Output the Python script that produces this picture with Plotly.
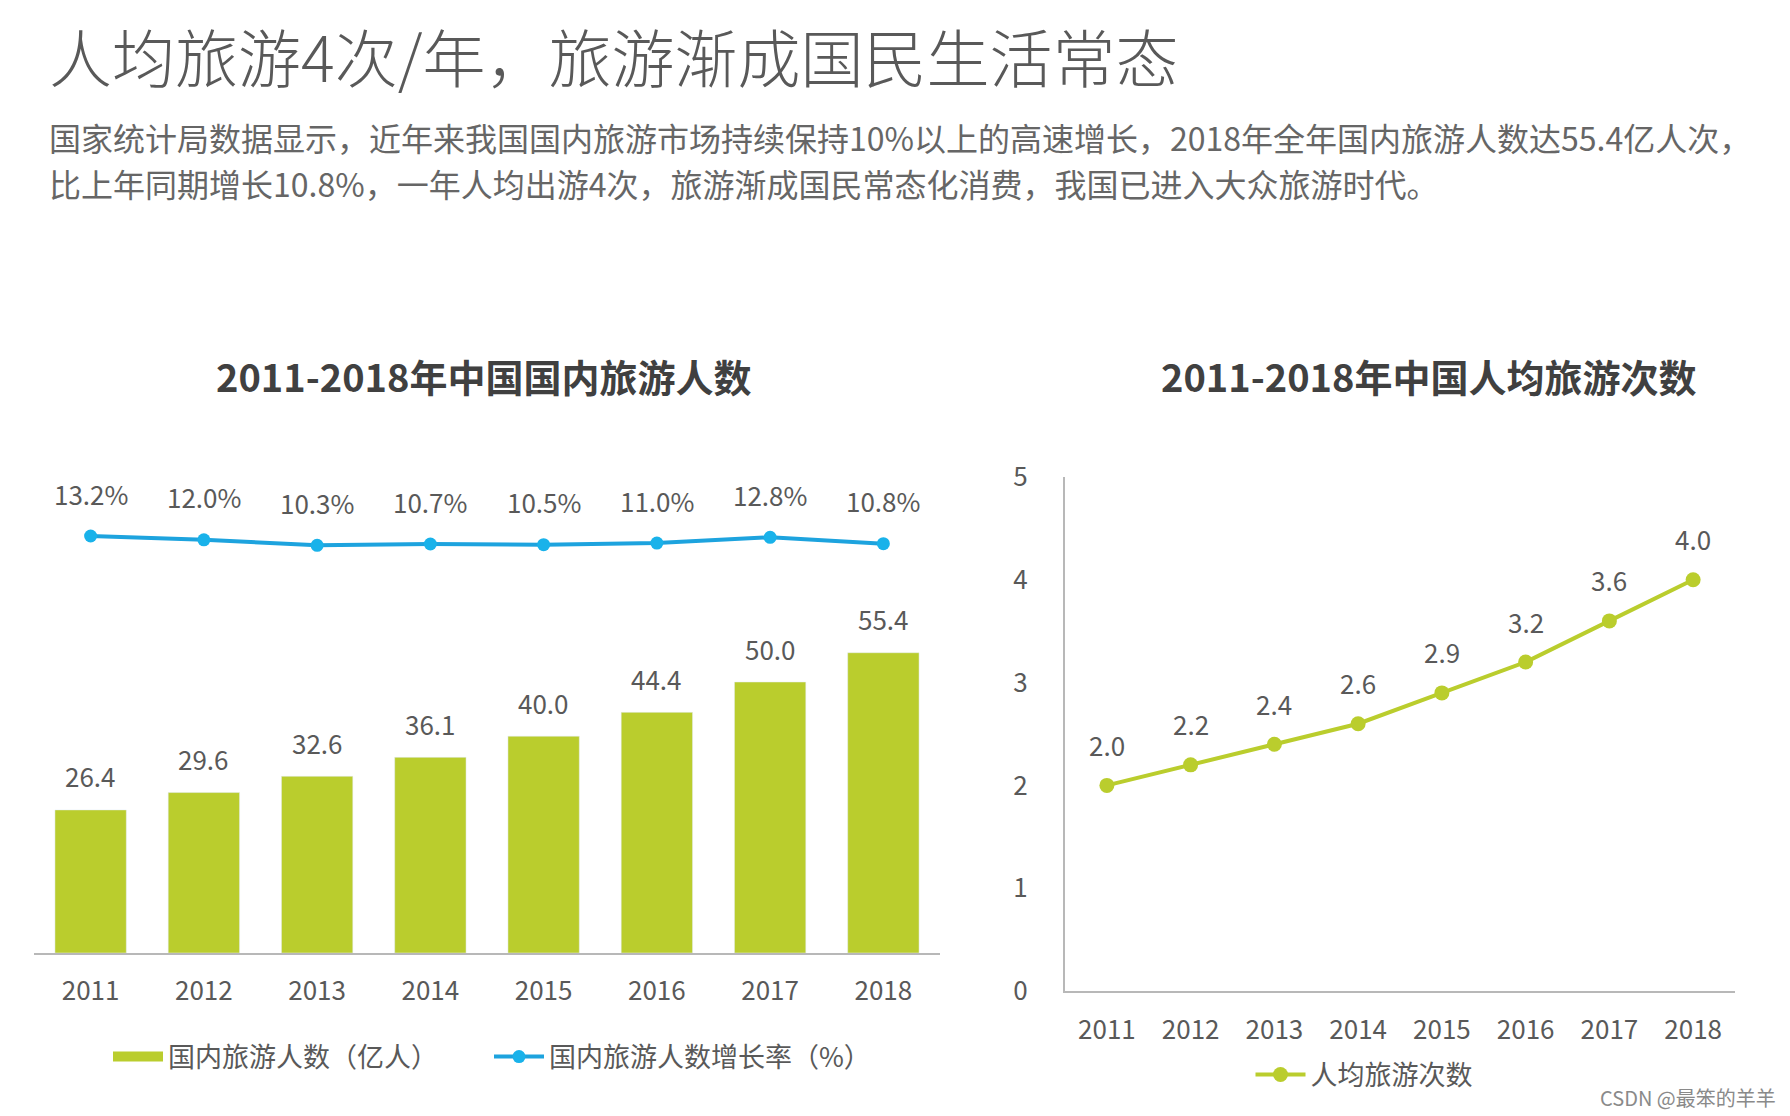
import plotly.graph_objects as go

W, H = 1790, 1116

years = ["2011", "2012", "2013", "2014", "2015", "2016", "2017", "2018"]
tourists = [26.4, 29.6, 32.6, 36.1, 40.0, 44.4, 50.0, 55.4]          # 亿人
growth = [13.2, 12.0, 10.3, 10.7, 10.5, 11.0, 12.8, 10.8]            # %
per_capita = [2.0, 2.2, 2.4, 2.6, 2.9, 3.2, 3.6, 4.0]               # 次
right_yticks = [0, 1, 2, 3, 4, 5]

title_text = "人均旅游4次/年，旅游渐成国民生活常态"
sub_line1 = "国家统计局数据显示，近年来我国国内旅游市场持续保持10%以上的高速增长，2018年全年国内旅游人数达55.4亿人次，"
sub_line2 = "比上年同期增长10.8%，一年人均出游4次，旅游渐成国民常态化消费，我国已进入大众旅游时代。"
left_title = "2011-2018年中国国内旅游人数"
right_title = "2011-2018年中国人均旅游次数"
bar_name = "国内旅游人数（亿人）"
growth_name = "国内旅游人数增长率（%）"
pc_name = "人均旅游次数"
watermark = "CSDN @最笨的羊羊"

GREEN = "#bacd2d"
BLUE_LINE = "#1da3de"
BLUE_MK = "#19b2ea"
GREY = "#595959"
AXIS = "#b8b8b8"
FONT = "Noto Sans CJK SC"
OFF = 8  # page body margin

def px(x):
    return (x - OFF) / W

def py(y):
    return 1 - (y - OFF) / H

fig = go.Figure()

fig.add_trace(go.Bar(
    x=years, y=tourists, name=bar_name, marker_color=GREEN,
    xaxis="x", yaxis="y", showlegend=False, hoverinfo="skip",
))
# legend proxy for the bars (wide swatch like the original)
fig.add_trace(go.Scatter(
    x=[None], y=[None], name=bar_name, mode="lines",
    line=dict(color=GREEN, width=16), xaxis="x", yaxis="y", legend="legend",
))
fig.add_trace(go.Scatter(
    x=years, y=growth, name=growth_name, mode="lines+markers",
    line=dict(color=BLUE_LINE, width=4), marker=dict(color=BLUE_MK, size=13),
    xaxis="x", yaxis="y2", legend="legend", cliponaxis=False,
))
fig.add_trace(go.Scatter(
    x=years, y=per_capita, name=pc_name, mode="lines+markers",
    line=dict(color=GREEN, width=4), marker=dict(color=GREEN, size=15),
    xaxis="x3", yaxis="y3", legend="legend2", cliponaxis=False,
))

LBL = dict(size=26, color=GREY, family=FONT)
ann = []
for i, v in enumerate(tourists):
    ann.append(dict(x=i, y=v, xref="x", yref="y", text=f"{v:.1f}", showarrow=False,
                    yshift=34, font=LBL))
for i, v in enumerate(growth):
    ann.append(dict(x=i, y=v, xref="x", yref="y2", text=f"{v:.1f}%", showarrow=False,
                    yshift=43, font=LBL))
for i, v in enumerate(per_capita):
    ann.append(dict(x=i, y=v, xref="x3", yref="y3", text=f"{v:.1f}", showarrow=False,
                    yshift=41, font=LBL))

ann.append(dict(x=px(47), y=py(54), xref="paper", yref="paper", xanchor="left", yanchor="middle",
                text=title_text, showarrow=False,
                font=dict(size=63, color=GREY, family=FONT, weight=300)))
ann.append(dict(x=px(47), y=py(137), xref="paper", yref="paper", xanchor="left", yanchor="middle",
                text=sub_line1, showarrow=False, font=dict(size=32, color="#666666", family=FONT)))
ann.append(dict(x=px(47), y=py(183), xref="paper", yref="paper", xanchor="left", yanchor="middle",
                text=sub_line2, showarrow=False, font=dict(size=32, color="#666666", family=FONT)))
ann.append(dict(x=px(483), y=py(375), xref="paper", yref="paper", xanchor="center", yanchor="middle",
                text=f"<b>{left_title}</b>", showarrow=False, font=dict(size=38, color="#404040", family=FONT)))
ann.append(dict(x=px(1428), y=py(375), xref="paper", yref="paper", xanchor="center", yanchor="middle",
                text=f"<b>{right_title}</b>", showarrow=False, font=dict(size=38, color="#404040", family=FONT)))
ann.append(dict(x=px(1778), y=py(1097), xref="paper", yref="paper", xanchor="right", yanchor="middle",
                text=watermark, showarrow=False, font=dict(size=20, color="#8a8a8a", family=FONT)))

left_top, left_bot = 500, 953
left_h = left_bot - left_top
y1_max = left_h / 5.42
y2_span = left_h / 3.2
y2_min = 13.2 - (left_bot - 536) / 3.2

fig.update_layout(
    width=W, height=H,
    margin=dict(l=0, r=0, t=0, b=0, autoexpand=False),
    paper_bgcolor="white", plot_bgcolor="white",
    font=dict(family=FONT, color=GREY),
    bargap=0.37,
    showlegend=True,
    xaxis=dict(domain=[px(34), px(940)], type="category", range=[-0.5, 7.5],
               showline=True, linecolor=AXIS, linewidth=2, ticks="", showgrid=False,
               tickfont=dict(size=26, color=GREY), ticklabelstandoff=14, anchor="y",
               zeroline=False, automargin=False),
    yaxis=dict(domain=[py(left_bot), py(left_top)], range=[0, y1_max], visible=False,
               showgrid=False, zeroline=False, automargin=False),
    yaxis2=dict(overlaying="y", range=[y2_min, y2_min + y2_span], visible=False,
                showgrid=False, zeroline=False, anchor="x", automargin=False),
    xaxis3=dict(domain=[px(1065), px(1735)], type="category", range=[-0.5, 7.5],
                showline=True, linecolor=AXIS, linewidth=2, ticks="", showgrid=False,
                tickfont=dict(size=26, color=GREY), ticklabelstandoff=15, anchor="y3",
                zeroline=False, automargin=False),
    yaxis3=dict(domain=[py(991), py(477)], range=[0, 5], tickvals=right_yticks,
                showline=True, linecolor=AXIS, linewidth=2, ticks="", showgrid=False,
                tickfont=dict(size=26, color=GREY), ticklabelstandoff=30, anchor="x3",
                zeroline=False, automargin=False),
    legend=dict(orientation="h", x=px(108), y=py(1057), xanchor="left", yanchor="middle",
                font=dict(size=27, color=GREY, family=FONT), entrywidth=316,
                bgcolor="rgba(0,0,0,0)", itemwidth=50),
    legend2=dict(orientation="h", x=px(1364), y=py(1075), xanchor="center", yanchor="middle",
                 font=dict(size=27, color=GREY, family=FONT),
                 bgcolor="rgba(0,0,0,0)", itemwidth=50),
    annotations=ann,
)

fig.write_html("out.html")
